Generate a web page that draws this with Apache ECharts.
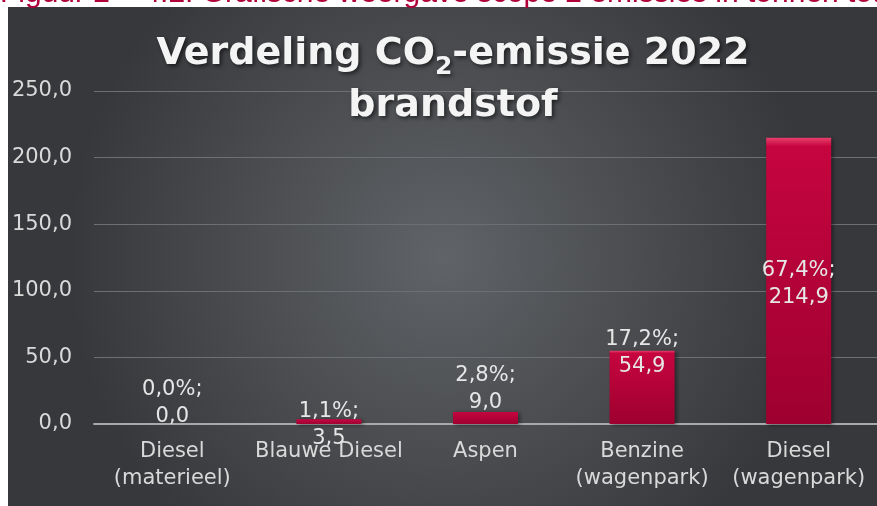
<!DOCTYPE html>
<html>
<head>
<meta charset="utf-8">
<script src="https://cdn.jsdelivr.net/npm/echarts@6/dist/echarts.min.js"></script>
<style>
  html, body { margin: 0; padding: 0; background: #ffffff; }
  #chart { width: 877px; height: 506px; }
</style>
</head>
<body>
<div id="chart"></div>
<script>
// data
var categories = ['Diesel\n(materieel)', 'Blauwe Diesel', 'Aspen', 'Benzine\n(wagenpark)', 'Diesel\n(wagenpark)'];
var emissions = [0.0, 3.5, 9.0, 54.9, 214.9];   // ton CO2
var shares = [0.0, 1.1, 2.8, 17.2, 67.4];        // % van totaal
var yTicks = { min: 0, max: 250, interval: 50 };

// label placement per bar (style only)
var labelPos = ['top', 'top', 'top', 'top', 'inside'];
var labelShift = [6, 33, 4, 29, 3];

function nl(v) {
  return v.toFixed(1).replace('.', ',');
}

var barData = emissions.map(function (v, i) {
  return {
    value: v,
    label: { position: labelPos[i], offset: [0, labelShift[i]] }
  };
});

var myChart = echarts.init(document.getElementById('chart'));
var font = 'DejaVu Sans';
var option = {
  backgroundColor: '#ffffff',
  animation: false,
  graphic: [
    {
      type: 'rect',
      z: -10,
      shape: { x: 8, y: 7, width: 869, height: 499 },
      style: {
        fill: new echarts.graphic.RadialGradient(0.5, 0.5, 0.75, [
          { offset: 0, color: '#606367' },
          { offset: 1, color: '#37383b' }
        ])
      }
    },
    {
      type: 'text',
      z: -5,
      x: 0,
      y: -6,
      style: {
        text: 'Figuur 2 – 4.2: Grafische weergave scope 2 emissies in tonnen totaal',
        font: '30px "Liberation Sans"',
        fill: '#b0003a',
        verticalAlign: 'middle'
      }
    }
  ],
  title: {
    left: 448,
    top: 23,
    textAlign: 'center',
    text: '{t|Verdeling CO}{s|2}{t|-emissie 2022}\n{t|brandstof}',
    textStyle: {
      rich: {
        t: {
          fontFamily: font, fontSize: 38, fontWeight: 'bold', color: '#f4f4f4', lineHeight: 52,
          textShadowColor: 'rgba(0,0,0,0.6)', textShadowBlur: 4, textShadowOffsetX: 2, textShadowOffsetY: 2
        },
        s: {
          fontFamily: font, fontSize: 25, fontWeight: 'bold', color: '#f4f4f4', lineHeight: 10,
          verticalAlign: 'bottom',
          textShadowColor: 'rgba(0,0,0,0.6)', textShadowBlur: 4, textShadowOffsetX: 2, textShadowOffsetY: 2
        }
      }
    }
  },
  grid: { left: 94, right: -14, top: 91, bottom: 82 },
  xAxis: {
    type: 'category',
    data: categories,
    axisLine: { lineStyle: { color: '#a9a9a9', width: 2 } },
    axisTick: { show: false },
    axisLabel: {
      interval: 0,
      margin: 14,
      color: '#d9d9d9',
      fontFamily: font,
      fontSize: 21,
      lineHeight: 27
    }
  },
  yAxis: {
    type: 'value',
    min: yTicks.min,
    max: yTicks.max,
    interval: yTicks.interval,
    axisLine: { show: false },
    axisTick: { show: false },
    splitLine: { lineStyle: { color: '#6c6f73', width: 1 } },
    axisLabel: {
      margin: 22,
      color: '#d9d9d9',
      fontFamily: font,
      fontSize: 21,
      formatter: function (v) { return nl(v); }
    }
  },
  series: [{
    type: 'bar',
    barWidth: 65,
    data: barData,
    itemStyle: {
      color: new echarts.graphic.LinearGradient(0, 0, 0, 1, [
        { offset: 0, color: '#e8406c' },
        { offset: 0.03, color: '#c6053f' },
        { offset: 1, color: '#9e002f' }
      ]),
      shadowColor: 'rgba(0,0,0,0.45)',
      shadowBlur: 4,
      shadowOffsetX: 2,
      shadowOffsetY: 1
    },
    label: {
      show: true,
      distance: 0,
      color: '#e6e6e6',
      fontFamily: font,
      fontSize: 21,
      lineHeight: 27,
      formatter: function (p) {
        return nl(shares[p.dataIndex]) + '%;\n' + nl(p.value);
      }
    }
  }]
};
myChart.setOption(option);
</script>
</body>
</html>
